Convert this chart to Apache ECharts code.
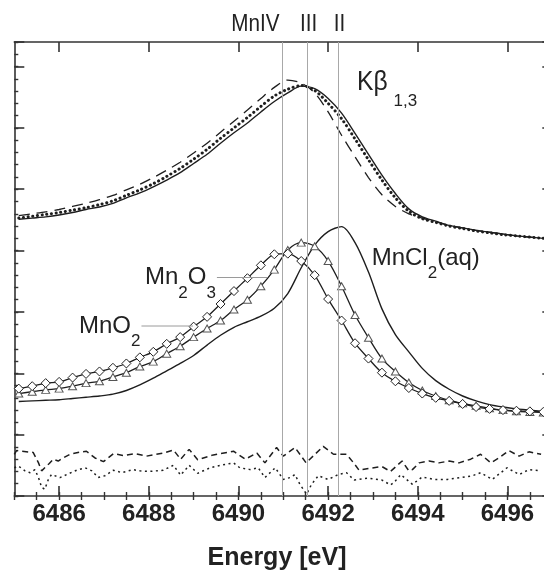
<!DOCTYPE html>
<html>
<head>
<meta charset="utf-8">
<script src="https://cdn.jsdelivr.net/npm/echarts@6/dist/echarts.min.js"></script>
<style>
  html, body { margin: 0; padding: 0; background: #fff; }
  #chart { width: 544px; height: 571px; }
</style>
</head>
<body>
<div id="chart"></div>
<script>
// Emission energies (eV) of the sampled spectra
const energy = [6485.1, 6485.4, 6485.7, 6486.0, 6486.3, 6486.6, 6486.9, 6487.2, 6487.5, 6487.8,
                6488.1, 6488.4, 6488.7, 6489.0, 6489.3, 6489.6, 6489.9, 6490.2, 6490.5, 6490.8,
                6491.1, 6491.4, 6491.7, 6492.0, 6492.3, 6492.6, 6492.9, 6493.2, 6493.5, 6493.8,
                6494.1, 6494.4, 6494.7, 6495.0, 6495.3, 6495.6, 6495.9, 6496.2, 6496.5, 6496.8];

// K-beta 1,3 main line: three measured spectra (offset intensity)
const kbSolid  = [4.51, 4.53, 4.55, 4.58, 4.62, 4.67, 4.71, 4.77, 4.86, 4.94,
                  5.04, 5.15, 5.27, 5.42, 5.57, 5.75, 5.92, 6.08, 6.26, 6.43,
                  6.57, 6.68, 6.64, 6.48, 6.24, 5.91, 5.57, 5.23, 4.93, 4.68,
                  4.55, 4.48, 4.41, 4.37, 4.33, 4.30, 4.27, 4.24, 4.22, 4.20];
const kbDotted = [4.53, 4.56, 4.59, 4.62, 4.66, 4.70, 4.75, 4.81, 4.90, 4.99,
                  5.09, 5.21, 5.34, 5.49, 5.65, 5.83, 6.00, 6.17, 6.35, 6.52,
                  6.63, 6.69, 6.61, 6.40, 6.15, 5.82, 5.48, 5.15, 4.86, 4.64,
                  4.52, 4.46, 4.40, 4.36, 4.32, 4.29, 4.26, 4.24, 4.22, 4.20];
const kbDashed = [4.57, 4.60, 4.63, 4.67, 4.72, 4.77, 4.83, 4.90, 4.99, 5.08,
                  5.19, 5.31, 5.44, 5.59, 5.75, 5.93, 6.11, 6.29, 6.48, 6.66,
                  6.78, 6.73, 6.57, 6.26, 5.88, 5.53, 5.19, 4.91, 4.72, 4.60,
                  4.53, 4.47, 4.41, 4.37, 4.33, 4.30, 4.27, 4.24, 4.22, 4.20];

// Reference compounds
const mnCl2 = [1.54, 1.55, 1.56, 1.57, 1.59, 1.61, 1.63, 1.66, 1.72, 1.81,
               1.92, 2.04, 2.16, 2.29, 2.46, 2.62, 2.75, 2.84, 2.93, 3.06,
               3.30, 3.72, 4.09, 4.31, 4.39, 4.13, 3.65, 3.05, 2.63, 2.35,
               2.08, 1.88, 1.74, 1.63, 1.55, 1.49, 1.45, 1.42, 1.40, 1.38];
const mn2O3 = [1.67, 1.70, 1.73, 1.75, 1.79, 1.84, 1.87, 1.94, 2.01, 2.11,
               2.19, 2.32, 2.44, 2.59, 2.73, 2.86, 3.04, 3.20, 3.42, 3.69,
               4.01, 4.13, 4.07, 3.83, 3.42, 2.95, 2.58, 2.24, 2.03, 1.85,
               1.72, 1.63, 1.56, 1.51, 1.47, 1.43, 1.40, 1.38, 1.37, 1.36];
const mnO2  = [1.75, 1.79, 1.84, 1.86, 1.93, 1.99, 2.03, 2.09, 2.16, 2.26,
               2.35, 2.48, 2.59, 2.76, 2.92, 3.13, 3.34, 3.55, 3.76, 3.94,
               3.95, 3.83, 3.60, 3.21, 2.86, 2.49, 2.24, 2.01, 1.87, 1.76,
               1.67, 1.60, 1.55, 1.50, 1.45, 1.42, 1.40, 1.39, 1.38, 1.37];

// Fit residuals
const resDashE = [6485.0, 6485.05, 6485.42, 6485.54, 6485.61, 6485.78, 6485.87, 6485.98, 6486.09, 6486.24,
                  6486.42, 6486.61, 6486.80, 6486.99, 6487.21, 6487.43, 6487.69, 6487.95, 6488.32, 6488.55,
                  6488.71, 6488.90, 6489.09, 6489.44, 6489.89, 6490.15, 6490.41, 6490.59, 6490.85, 6491.0,
                  6491.26, 6491.51, 6491.89, 6492.12, 6492.41, 6492.58, 6492.69, 6492.92, 6493.20, 6493.39,
                  6493.65, 6493.80, 6493.88, 6494.03, 6494.25, 6494.47, 6494.70, 6494.92, 6495.18, 6495.40,
                  6495.63, 6495.81, 6496.03, 6496.26, 6496.48, 6496.75];
const resDashV = [0.68, 0.74, 0.71, 0.54, 0.41, 0.53, 0.60, 0.57, 0.62, 0.68,
                  0.71, 0.73, 0.62, 0.56, 0.69, 0.66, 0.69, 0.65, 0.70, 0.75,
                  0.60, 0.76, 0.59, 0.67, 0.73, 0.60, 0.70, 0.54, 0.79, 0.65,
                  0.79, 0.54, 0.81, 0.68, 0.68, 0.53, 0.42, 0.45, 0.48, 0.40,
                  0.57, 0.41, 0.43, 0.54, 0.57, 0.54, 0.57, 0.54, 0.60, 0.68,
                  0.54, 0.62, 0.74, 0.65, 0.72, 0.68];
const resDotE  = [6485.0, 6485.09, 6485.24, 6485.35, 6485.46, 6485.54, 6485.61, 6485.68, 6485.76, 6485.83,
                  6486.02, 6486.17, 6486.39, 6486.58, 6486.73, 6486.87, 6487.02, 6487.21, 6487.40, 6487.65,
                  6487.80, 6488.01, 6488.32, 6488.55, 6488.71, 6488.90, 6489.09, 6489.37, 6489.59, 6489.89,
                  6490.03, 6490.26, 6490.44, 6490.59, 6490.82, 6491.0, 6491.15, 6491.26, 6491.37, 6491.52,
                  6491.63, 6491.78, 6492.0, 6492.23, 6492.41, 6492.58, 6492.89, 6493.20, 6493.39, 6493.47,
                  6493.62, 6493.88, 6494.10, 6494.36, 6494.66, 6494.96, 6495.22, 6495.40, 6495.66, 6495.99,
                  6496.26, 6496.48, 6496.74];
const resDotV  = [0.46, 0.49, 0.41, 0.38, 0.43, 0.30, 0.14, 0.11, 0.27, 0.35,
                  0.30, 0.35, 0.42, 0.46, 0.41, 0.30, 0.33, 0.42, 0.38, 0.43,
                  0.41, 0.40, 0.42, 0.50, 0.34, 0.50, 0.37, 0.46, 0.50, 0.54,
                  0.46, 0.43, 0.46, 0.30, 0.46, 0.27, 0.30, 0.35, 0.19, 0.03,
                  0.19, 0.33, 0.27, 0.35, 0.38, 0.26, 0.29, 0.26, 0.18, 0.22,
                  0.35, 0.19, 0.31, 0.27, 0.27, 0.30, 0.33, 0.38, 0.27, 0.46,
                  0.35, 0.43, 0.41];

// Oxidation-state reference energies and their captions
const oxidationLines  = [6490.98, 6491.54, 6492.23];
const oxidationLabels = ['MnIV', 'III', 'II'];

// Axis ticks
const energyTicks = [6486, 6488, 6490, 6492, 6494, 6496];
const energyMin = 6485, energyMax = 6497;
const intensityMin = 0, intensityMax = 7.4;

const pairs = (xs, ys) => xs.map((x, i) => [x, ys[i]]);

const INK = '#1e1e1e';
const FRAME = '#333333';
const FONT = '"Liberation Sans", Arial, Helvetica, sans-serif';

function xAxisPair(position, withLabels) {
  return [
    {
      type: 'value', position, min: energyMin, max: energyMax,
      axisLine: { show: true, onZero: false, lineStyle: { color: FRAME, width: 1.6 } },
      axisTick: { show: true, inside: true, length: 10, customValues: energyTicks,
                  lineStyle: { color: FRAME, width: 1.6 } },
      axisLabel: withLabels
        ? { show: true, customValues: energyTicks, margin: 6, color: '#222',
            fontFamily: FONT, fontSize: 24, fontWeight: 'bold',
            formatter: v => String(Math.round(v)) }
        : { show: false },
      splitLine: { show: false }
    },
    {
      type: 'value', position, min: energyMin, max: energyMax, interval: 0.5,
      axisLine: { show: false },
      axisTick: { show: true, inside: true, length: 4, lineStyle: { color: FRAME, width: 1.4 } },
      axisLabel: { show: false },
      splitLine: { show: false }
    }
  ];
}

function yAxisPair(position) {
  return [
    {
      type: 'value', position, min: intensityMin, max: intensityMax, interval: 1,
      axisLine: { show: true, onZero: false, lineStyle: { color: FRAME, width: 1.6 } },
      axisTick: { show: true, inside: true, length: 10, lineStyle: { color: FRAME, width: 1.6 } },
      axisLabel: { show: false },
      splitLine: { show: false }
    },
    {
      type: 'value', position, min: intensityMin, max: intensityMax, interval: 0.2,
      axisLine: { show: false },
      axisTick: { show: true, inside: true, length: 4, lineStyle: { color: FRAME, width: 1.4 } },
      axisLabel: { show: false },
      splitLine: { show: false }
    }
  ];
}

const plainLine = (name, values, lineStyle, extra) => Object.assign({
  name, type: 'line', data: pairs(energy, values), smooth: 0.3,
  showSymbol: false, silent: true, lineStyle, emphasis: { disabled: true }
}, extra || {});

const chart = echarts.init(document.getElementById('chart'), null, { renderer: 'canvas' });

chart.setOption({
  animation: false,
  backgroundColor: '#ffffff',
  grid: { left: 14.3, top: 42, right: -8.3, bottom: 75, outerBoundsMode: 'none', containLabel: false },
  xAxis: [...xAxisPair('bottom', true), ...xAxisPair('top', false)],
  yAxis: [...yAxisPair('left'), ...yAxisPair('right')],
  series: [
    plainLine('Kβ dashed', kbDashed, { color: INK, width: 1.3, type: [11, 7] }),
    plainLine('Kβ dotted', kbDotted, { color: INK, width: 3, type: [0.1, 4.6], cap: 'round' }),
    plainLine('Kβ solid', kbSolid, { color: INK, width: 1.4 }),
    plainLine('MnCl2(aq)', mnCl2, { color: INK, width: 1.4 }, {
      markLine: {
        silent: true, animation: false, symbol: ['none', 'none'],
        label: { show: false },
        lineStyle: { color: '#a8a8a8', width: 1, type: 'solid' },
        emphasis: { disabled: true },
        data: oxidationLines.map(e => ({ xAxis: e }))
      }
    }),
    plainLine('Mn2O3', mn2O3, { color: INK, width: 1.3 }, {
      showSymbol: true, showAllSymbol: true, symbol: 'triangle', symbolSize: [8, 7],
      itemStyle: { color: '#ffffff', borderColor: '#555', borderWidth: 1 }
    }),
    plainLine('MnO2', mnO2, { color: INK, width: 1.3 }, {
      showSymbol: true, showAllSymbol: true, symbol: 'diamond', symbolSize: [9, 9],
      itemStyle: { color: '#ffffff', borderColor: '#222', borderWidth: 1 }
    }),
    {
      name: 'residual A', type: 'line', data: pairs(resDashE, resDashV), smooth: false,
      showSymbol: false, silent: true, lineStyle: { color: INK, width: 1.5, type: [6, 4] }
    },
    {
      name: 'residual B', type: 'line', data: pairs(resDotE, resDotV), smooth: false,
      showSymbol: false, silent: true, lineStyle: { color: INK, width: 1.5, type: [2, 3.5] }
    }
  ]
});

// ---- annotations ----
const measureCtx = document.createElement('canvas').getContext('2d');
function textWidth(str, font) { measureCtx.font = font; return measureCtx.measureText(str).width; }

function textEl(str, x, y, size, opts) {
  opts = opts || {};
  const font = (opts.weight || 'normal') + ' ' + size + 'px ' + FONT;
  return {
    type: 'text', x, y, scaleX: opts.squeeze || 1, silent: true, z: 100,
    style: {
      text: str, font, fill: opts.fill || '#222',
      align: opts.align || 'left', textAlign: opts.align || 'left',
      verticalAlign: 'middle', textVerticalAlign: 'middle'
    }
  };
}

// Chemical-style label: parts are [text, isSubscript, extra gap before]
function formulaLabel(parts, left, capMid, size, subSize, subDrop, squeeze) {
  squeeze = squeeze || 1;
  const els = [];
  let x = left;
  parts.forEach(([str, isSub, gap]) => {
    x += gap || 0;
    const fs = isSub ? subSize : size;
    const sq = isSub ? 1 : squeeze;
    els.push(textEl(str, x, capMid + (isSub ? subDrop : 0), fs, { squeeze: sq }));
    x += textWidth(str, 'normal ' + fs + 'px ' + FONT) * sq;
  });
  return { els, right: x };
}

const lineX = oxidationLines.map(e => chart.convertToPixel({ xAxisIndex: 0 }, e));

const graphics = [];
graphics.push(textEl(oxidationLabels[0], lineX[0] - 3, 24, 24, { align: 'right', squeeze: 0.86 }));
graphics.push(textEl(oxidationLabels[1], lineX[1] + 1, 24, 24, { align: 'center', squeeze: 0.86 }));
graphics.push(textEl(oxidationLabels[2], lineX[2] + 1, 24, 24, { align: 'center', squeeze: 0.86 }));

const kb = formulaLabel([['Kβ', false], ['1,3', true, 6]], 357, 82, 28, 17, 19, 0.88);
const mncl = formulaLabel([['MnCl', false], ['2', true], ['(aq)', false]], 371.7, 258.5, 24, 17, 15);
const mn2o3 = formulaLabel([['Mn', false], ['2', true], ['O', false], ['3', true]], 145, 277.5, 24, 17, 15.5);
const mno2 = formulaLabel([['Mn', false], ['O', false], ['2', true]], 79, 326, 24, 17, 15);
graphics.push(...kb.els, ...mncl.els, ...mn2o3.els, ...mno2.els);

// leader lines from the labels to their curves
graphics.push({ type: 'line', silent: true, z: 90,
  shape: { x1: mn2o3.right + 1, y1: 277.5, x2: 267, y2: 277.5 },
  style: { stroke: '#9a9a9a', lineWidth: 1 } });
graphics.push({ type: 'line', silent: true, z: 90,
  shape: { x1: mno2.right + 1, y1: 326, x2: 193, y2: 326 },
  style: { stroke: '#9a9a9a', lineWidth: 1 } });

graphics.push(textEl('Energy [eV]', 277, 558.5, 25, { align: 'center', weight: 'bold' }));

chart.setOption({ graphic: { elements: graphics } });
</script>
</body>
</html>
